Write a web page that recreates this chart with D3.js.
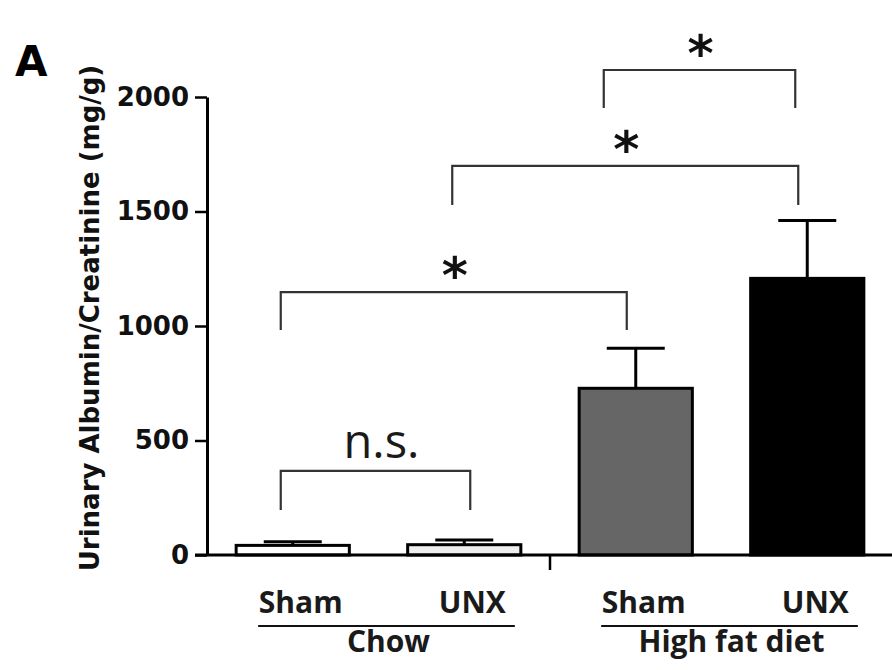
<!DOCTYPE html>
<html><head><meta charset="utf-8">
<script src="https://cdn.jsdelivr.net/npm/d3@7"></script>
<style>body{margin:0;background:#fff}svg{display:block}</style>
</head><body>
<svg id="c" width="892" height="670"></svg>
<script>
const categories = ["Sham", "UNX", "Sham", "UNX"];
const groups = ["Chow", "High fat diet"];
const groupOf = [0, 0, 1, 1];
const means = [42, 45, 728, 1208];
const sems = [16, 20, 175, 253];
const fills = ["#ffffff", "#eeeeee", "#666666", "#000000"];
const yTicks = [0, 500, 1000, 1500, 2000];
const brackets = [
  {from: 0, to: 1, top: 367, leg: 197, label: "n.s."},
  {from: 0, to: 2, top: 1148, leg: 982, label: "*"},
  {from: 1, to: 3, top: 1699, leg: 1528, label: "*"},
  {from: 2, to: 3, top: 2118, leg: 1952, label: "*"}
];
const yTitle = "Urinary Albumin/Creatinine (mg/g)";
const panel = "A";

const svg = d3.select("#c");
const x0 = 207, x1 = 893, yBase = 555, yTop = 97;
const x = d3.scaleBand().domain(d3.range(categories.length)).range([x0, x1]).paddingInner(0.34).paddingOuter(0.17);
const y = d3.scaleLinear().domain([0, 2000]).range([yBase, yTop]);
const cx = i => x(i) + x.bandwidth() / 2;

// bars
svg.append("g").selectAll("rect").data(means).join("rect")
  .attr("x", (d, i) => x(i)).attr("width", x.bandwidth())
  .attr("y", d => y(d)).attr("height", d => yBase - y(d))
  .attr("fill", (d, i) => fills[i]).attr("stroke", "#000").attr("stroke-width", 3);

// error bars (upper)
const eb = svg.append("g").attr("stroke", "#000").attr("stroke-width", 3);
means.forEach((m, i) => {
  eb.append("line").attr("x1", cx(i)).attr("x2", cx(i)).attr("y1", y(m)).attr("y2", y(m + sems[i]));
  eb.append("line").attr("x1", cx(i) - 29).attr("x2", cx(i) + 29).attr("y1", y(m + sems[i])).attr("y2", y(m + sems[i]));
});

// y axis
const ya = svg.append("g").attr("transform", `translate(${x0},0)`)
  .call(d3.axisLeft(y).tickValues(yTicks).tickSize(12).tickSizeOuter(0).tickPadding(6).tickFormat(d3.format("d")));
ya.select(".domain").attr("stroke-width", 3).attr("stroke", "#000");
ya.selectAll(".tick line").attr("stroke-width", 2.5).attr("stroke", "#000");
ya.selectAll(".tick text").attr("font-family", "DejaVu Sans").attr("font-weight", "bold").attr("font-size", 26).attr("fill", "#111");

// x axis line + break tick
svg.append("line").attr("x1", x0 - 12).attr("x2", x1).attr("y1", yBase).attr("y2", yBase).attr("stroke", "#000").attr("stroke-width", 3);
const brk = (cx(1) + cx(2)) / 2;
svg.append("line").attr("x1", brk).attr("x2", brk).attr("y1", yBase).attr("y2", yBase + 15).attr("stroke", "#000").attr("stroke-width", 2.5);

// category labels
svg.append("g").selectAll("text").data(categories).join("text")
  .attr("x", (d, i) => cx(i) + 8).attr("y", 613).attr("text-anchor", "middle")
  .attr("font-family", "Open Sans").attr("font-weight", "bold").attr("font-size", 30).attr("fill", "#1a1a1a").text(d => d);

// group underline and labels
groups.forEach((g, gi) => {
  const idx = d3.range(categories.length).filter(i => groupOf[i] === gi);
  const a = x(idx[0]) + 22, b = x(idx[idx.length - 1]) + x.bandwidth() - 6;
  svg.append("line").attr("x1", a).attr("x2", b).attr("y1", 626).attr("y2", 626).attr("stroke", "#111").attr("stroke-width", 2);
  svg.append("text").attr("x", (a + b) / 2 + 2).attr("y", 652).attr("text-anchor", "middle")
    .attr("font-family", "Open Sans").attr("font-weight", "bold").attr("font-size", 30).attr("fill", "#1a1a1a").text(g);
});

// brackets
const bg = svg.append("g");
const rightOff = [6, -9, -9, -12];
brackets.forEach((br, k) => {
  const a = cx(br.from) - (k === 3 ? 32 : 12), b = cx(br.to) + rightOff[k];
  bg.append("path").attr("d", `M${a},${y(br.leg)}V${y(br.top)}H${b}V${y(br.leg)}`)
    .attr("fill", "none").attr("stroke", "#333").attr("stroke-width", 2.2);
  if (br.label === "n.s.") {
    bg.append("text").attr("x", (a + b) / 2 + 6).attr("y", y(br.top) - 13).attr("text-anchor", "middle")
      .attr("font-family", "Open Sans").attr("font-size", 47).attr("fill", "#1a1a1a").text(br.label);
  } else {
    bg.append("text").attr("x", (a + b) / 2 + 1).attr("y", y(br.top) + 1).attr("text-anchor", "middle")
      .attr("font-family", "DejaVu Sans").attr("font-weight", "bold").attr("font-size", 50).attr("fill", "#111").text(br.label);
  }
});

// y title
svg.append("text").attr("transform", `translate(99,318) rotate(-90)`).attr("text-anchor", "middle")
  .attr("font-family", "DejaVu Sans").attr("font-weight", "bold").attr("font-size", 26).attr("fill", "#111").text(yTitle);

// panel letter
svg.append("text").attr("x", 15).attr("y", 76).attr("font-family", "DejaVu Sans").attr("font-weight", "bold").attr("font-size", 42).attr("fill", "#000").text(panel);
</script>
</body></html>
